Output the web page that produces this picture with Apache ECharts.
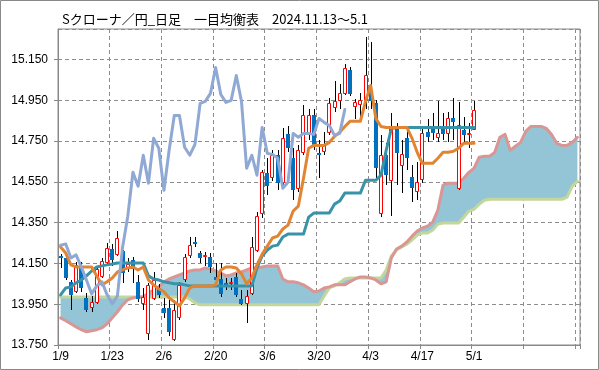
<!DOCTYPE html>
<html><head><meta charset="utf-8">
<script src="https://cdn.jsdelivr.net/npm/echarts@6/dist/echarts.min.js"></script>
<style>html,body{margin:0;padding:0;background:#fff}#c{width:599px;height:370px}</style>
</head><body><div id="c"></div>
<script>
// ---- data ----
const dates = ['1/9','1/10','1/13','1/14','1/15','1/16','1/17','1/20','1/21','1/22',
'1/23','1/24','1/27','1/28','1/29','1/30','1/31','2/3','2/4','2/5',
'2/6','2/7','2/10','2/11','2/12','2/13','2/14','2/17','2/18','2/19',
'2/20','2/21','2/24','2/25','2/26','2/27','2/28','3/3','3/4','3/5',
'3/6','3/7','3/10','3/11','3/12','3/13','3/14','3/17','3/18','3/19',
'3/20','3/21','3/24','3/25','3/26','3/27','3/28','3/31','4/1','4/2',
'4/3','4/4','4/7','4/8','4/9','4/10','4/11','4/14','4/15','4/16',
'4/17','4/18','4/21','4/22','4/23','4/24','4/25','4/28','4/29','4/30',
'5/1','5/2','5/5','5/6','5/7','5/8','5/9','5/12','5/13','5/14',
'5/15','5/16','5/19','5/20','5/21','5/22','5/23','5/26','5/27','5/28',
'5/29'];
const lastPriceIndex = 80; // 5/1

const opens = [14.187,14.177,14.060,14.015,14.133,13.981,13.937,13.962,14.089,14.157,
14.221,14.196,14.211,14.128,14.167,14.060,13.957,13.810,13.981,14.030,
13.932,13.932,13.781,13.888,14.074,14.192,14.255,14.201,14.187,14.182,
14.084,14.074,14.055,14.055,14.084,13.976,13.957,14.006,14.216,14.397,
14.593,14.573,14.681,14.548,14.783,14.666,14.519,14.695,14.788,14.876,
14.690,14.700,14.793,14.915,14.954,14.984,15.101,14.920,14.930,14.950,
14.994,14.935,14.397,14.681,14.558,14.822,14.632,14.764,14.573,14.504,
14.563,14.793,14.808,14.769,14.808,14.788,14.861,14.519,14.803,14.783,
14.808];
const closes = [14.177,14.079,13.996,14.143,14.030,13.923,13.962,14.123,14.162,14.226,
14.167,14.275,14.103,14.147,14.123,13.976,13.986,14.045,14.069,13.996,
13.908,13.815,13.923,14.045,14.182,14.240,14.245,14.177,14.192,14.133,
14.069,14.001,14.040,14.060,13.996,13.952,13.991,14.231,14.382,14.597,
14.529,14.681,14.544,14.764,14.715,14.509,14.705,14.876,14.876,14.720,
14.681,14.734,14.935,14.945,14.984,15.111,14.979,14.940,14.950,15.072,
14.945,14.617,14.681,14.583,14.817,14.690,14.685,14.666,14.519,14.548,
14.788,14.769,14.788,14.788,14.783,14.861,14.842,14.827,14.778,14.788,
14.905];
const lows = [14.128,14.069,13.923,14.006,14.011,13.913,13.913,13.952,14.079,14.147,
14.138,14.187,14.055,14.108,14.055,13.962,13.923,13.776,13.972,13.981,
13.883,13.795,13.771,13.874,14.060,14.177,14.231,14.152,14.138,14.103,
14.035,13.986,14.020,14.020,13.986,13.947,13.859,13.996,14.206,14.372,
14.485,14.553,14.509,14.529,14.695,14.460,14.500,14.681,14.754,14.705,
14.568,14.681,14.778,14.891,14.910,14.974,14.969,14.857,14.857,14.910,
14.910,14.558,14.377,14.534,14.382,14.534,14.495,14.607,14.451,14.460,
14.544,14.744,14.754,14.744,14.754,14.744,14.754,14.509,14.744,14.715,
14.803];
const highs = [14.196,14.187,14.069,14.157,14.157,14.006,13.991,14.138,14.177,14.250,
14.245,14.309,14.216,14.177,14.182,14.094,14.030,14.055,14.108,14.050,
13.981,13.981,13.972,14.060,14.196,14.280,14.280,14.211,14.206,14.201,
14.152,14.152,14.079,14.079,14.103,14.020,14.020,14.280,14.402,14.607,
14.666,14.705,14.705,14.812,14.822,14.715,14.729,14.925,14.910,14.910,
14.754,14.793,14.964,15.047,15.028,15.130,15.116,14.959,14.984,15.262,
15.238,14.950,14.778,14.739,14.886,14.837,14.754,14.803,14.632,14.646,
14.808,14.857,14.886,14.945,14.886,14.891,14.964,14.940,14.866,14.837,
14.945];

const tenkan = [14.231,14.201,14.143,14.133,14.133,14.133,14.133,14.089,14.045,14.060,
14.079,14.108,14.118,14.128,14.133,14.118,14.133,14.069,14.045,14.025,
14.011,13.981,13.962,13.942,13.981,14.030,14.040,14.040,14.040,14.040,
14.045,14.118,14.133,14.133,14.128,14.099,14.050,14.079,14.143,14.196,
14.235,14.275,14.284,14.319,14.338,14.407,14.431,14.568,14.715,14.729,
14.729,14.729,14.744,14.773,14.793,14.822,14.847,14.847,14.847,14.945,
15.023,14.861,14.822,14.817,14.817,14.817,14.817,14.817,14.764,14.695,
14.641,14.641,14.641,14.666,14.695,14.695,14.700,14.715,14.739,14.739,
14.739];
const kijun = [13.996,14.030,14.035,14.055,14.069,14.089,14.113,14.133,14.138,14.143,
14.147,14.152,14.152,14.152,14.152,14.152,14.152,14.089,14.074,14.069,
14.060,14.055,14.050,14.050,14.045,14.040,14.040,14.040,14.040,14.040,
14.040,14.040,14.040,14.040,14.040,14.040,14.040,14.040,14.128,14.187,
14.216,14.235,14.240,14.280,14.294,14.294,14.294,14.294,14.377,14.397,
14.397,14.397,14.397,14.441,14.456,14.495,14.495,14.495,14.495,14.558,
14.558,14.558,14.583,14.705,14.812,14.817,14.817,14.817,14.817,14.817,
14.817,14.817,14.817,14.817,14.817,14.817,14.817,14.817,14.817,14.817,
14.817];
const spanA = [13.883,13.869,13.854,13.839,13.825,13.815,13.820,13.825,13.834,13.854,
13.883,13.913,13.947,13.972,13.981,13.986,13.986,14.006,14.020,14.035,
14.060,14.074,14.084,14.094,14.103,14.113,14.118,14.118,14.128,14.123,
14.113,14.103,14.089,14.094,14.103,14.108,14.118,14.128,14.128,14.133,
14.138,14.138,14.138,14.074,14.060,14.060,14.055,14.045,14.030,14.011,
14.015,14.030,14.035,14.045,14.045,14.045,14.060,14.074,14.084,14.084,
14.079,14.069,14.050,14.060,14.177,14.221,14.235,14.255,14.284,14.309,
14.324,14.333,14.353,14.412,14.534,14.544,14.544,14.544,14.568,14.597,
14.617,14.671,14.676,14.676,14.695,14.769,14.783,14.705,14.725,14.744,
14.798,14.822,14.822,14.822,14.812,14.783,14.739,14.729,14.729,14.744,
14.769];
const spanB = [13.986,13.986,13.986,13.986,13.986,13.986,13.986,13.986,13.986,13.986,
13.986,13.986,13.986,13.986,13.986,13.986,13.986,13.986,13.986,13.986,
13.986,13.986,13.986,13.986,13.986,13.976,13.957,13.947,13.947,13.947,
13.947,13.947,13.947,13.947,13.947,13.947,13.947,13.947,13.947,13.947,
13.947,13.947,13.947,13.947,13.947,13.947,13.947,13.947,13.947,13.947,
13.947,13.991,14.030,14.040,14.055,14.074,14.079,14.079,14.079,14.079,
14.079,14.079,14.079,14.118,14.187,14.216,14.231,14.245,14.265,14.289,
14.299,14.299,14.314,14.343,14.348,14.348,14.348,14.348,14.377,14.407,
14.416,14.441,14.460,14.465,14.465,14.465,14.465,14.465,14.465,14.465,
14.465,14.465,14.465,14.465,14.465,14.465,14.465,14.465,14.475,14.529,
14.553];
const chikouLag = 25;              // lagging span: close plotted 25 bars back
const chikou = closes.slice(chikouLag);

const yTicksMin = 13.75, yTicksStep = 0.2, yMax = 15.3;
const titleText = 'Sクローナ／円_日足　一目均衡表　2024.11.13～5.1';

// ---- build ----
const candles = opens.map((o, i) => [i, o, closes[i], lows[i], highs[i]]);
const cloudBase = spanA.map((a, i) => Math.min(a, spanB[i]));
const cloudBand = spanA.map((a, i) => Math.abs(a - spanB[i]));

const gridColor = '#8c8c8c';
const chart = echarts.init(document.getElementById('c'), null, {renderer: 'canvas', width: 599, height: 370});
const lineS = (name, data, color, z) => ({
  name, type: 'line', data, symbol: 'none', z, silent: true,
  lineStyle: {color, width: 3, join: 'round', cap: 'round'}
});
chart.setOption({
  animation: false,
  backgroundColor: '#ffffff',
  title: {
    text: titleText, left: 57, top: 8,
    textStyle: {fontSize: 13, fontWeight: 'normal', color: '#000', fontFamily: '"Noto Sans CJK JP", sans-serif'}
  },
  graphic: [{
    type: 'rect', silent: true, z: 100,
    shape: {x: 0.5, y: 0.5, width: 598, height: 369},
    style: {fill: null, stroke: '#898989', lineWidth: 1}
  }],
  grid: {left: 58, right: 19, top: 29, bottom: 25, show: true, borderColor: '#898989', borderWidth: 1, backgroundColor: '#fff'},
  xAxis: {
    type: 'category', data: dates, boundaryGap: true,
    axisLine: {show: true, lineStyle: {color: '#898989'}},
    axisTick: {show: true, interval: 9, length: 4, lineStyle: {color: '#898989'}},
    axisLabel: {
      interval: 9, margin: 6, fontSize: 12, color: '#000', fontFamily: '"Liberation Sans", Arial, sans-serif',
      formatter: (v, i) => (i <= lastPriceIndex ? v : '')
    },
    splitLine: {show: true, interval: 9, lineStyle: {color: gridColor, type: [4, 3], width: 1}}
  },
  yAxis: {
    type: 'value', min: yTicksMin, max: yMax, interval: yTicksStep, scale: true,
    axisLine: {show: true, lineStyle: {color: '#898989'}},
    axisTick: {show: true, length: 4, lineStyle: {color: '#898989'}},
    axisLabel: {
      margin: 10, fontSize: 12, color: '#000', showMaxLabel: false,
      fontFamily: '"Liberation Sans", Arial, sans-serif',
      formatter: v => (Math.abs(v - yMax) < 1e-9 ? '' : v.toFixed(3))
    },
    splitLine: {show: true, lineStyle: {color: gridColor, type: [4, 3], width: 1}}
  },
  series: [
    {name: 'cloudBase', type: 'line', data: cloudBase, stack: 'kumo', symbol: 'none', silent: true, z: 1,
     lineStyle: {opacity: 0, width: 0}},
    {name: 'cloud', type: 'line', data: cloudBand, stack: 'kumo', symbol: 'none', silent: true, z: 1,
     lineStyle: {opacity: 0, width: 0}, areaStyle: {color: '#93C5D6', opacity: 1}},
    lineS('先行スパン2', spanB, '#C3D69B', 2),
    lineS('先行スパン1', spanA, '#D99694', 2),
    {
      name: 'ローソク足', type: 'custom', z: 3, silent: true,
      data: candles,
      encode: {x: 0, y: [1, 2, 3, 4]},
      renderItem: function (params, api) {
        const i = api.value(0);
        const o = api.value(1), c = api.value(2), l = api.value(3), h = api.value(4);
        const po = api.coord([i, o]), pc = api.coord([i, c]);
        const pl = api.coord([i, l]), ph = api.coord([i, h]);
        const xc = Math.round(po[0]);
        const up = c >= o;
        const yTop = Math.round(Math.min(po[1], pc[1]));
        const yBot = Math.round(Math.max(po[1], pc[1]));
        const children = [{
          type: 'line',
          shape: {x1: xc + 0.5, y1: Math.round(ph[1]), x2: xc + 0.5, y2: Math.round(pl[1])},
          style: {stroke: '#000', lineWidth: 1}
        }];
        if (up) {
          children.push({type: 'rect',
            shape: {x: xc - 1.5, y: yTop + 0.5, width: 3, height: Math.max(yBot - yTop, 1)},
            style: {fill: '#fff', stroke: '#ff0000', lineWidth: 1}});
        } else {
          children.push({type: 'rect',
            shape: {x: xc - 2, y: yTop, width: 4, height: Math.max(yBot - yTop, 2)},
            style: {fill: '#0070C0'}});
        }
        return {type: 'group', children};
      }
    },
    lineS('基準線', kijun, '#3893A8', 4),
    lineS('転換線', tenkan, '#E28532', 5),
    lineS('遅行スパン', chikou, '#8FA8D4', 6)
  ]
});
</script></body></html>
